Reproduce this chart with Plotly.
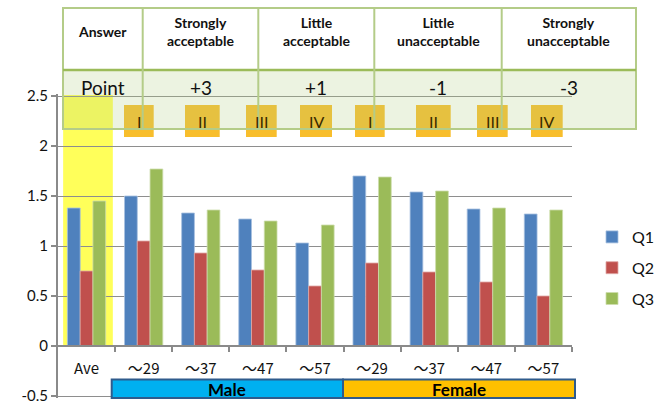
import plotly.graph_objects as go

# ---- data -------------------------------------------------------------
age_labels = ["Ave", "～29", "～37", "～47", "～57", "～29", "～37", "～47", "～57"]
q1 = [1.38, 1.50, 1.33, 1.27, 1.03, 1.70, 1.54, 1.37, 1.32]
q2 = [0.75, 1.05, 0.93, 0.76, 0.60, 0.83, 0.74, 0.64, 0.50]
q3 = [1.45, 1.77, 1.36, 1.25, 1.21, 1.69, 1.55, 1.38, 1.36]
series_names = ["Q1", "Q2", "Q3"]

y_ticks = [-0.5, 0, 0.5, 1, 1.5, 2, 2.5]
y_tick_text = ["-0.5", "0", "0.5", "1", "1.5", "2", "2.5"]

answer_heads = ["Answer", "Strongly<br>acceptable", "Little<br>acceptable",
                "Little<br>unacceptable", "Strongly<br>unacceptable"]
answer_points = ["Point", "+3", "+1", "-1", "-3"]
roman = ["I", "II", "III", "IV", "I", "II", "III", "IV"]
groups = ["Male", "Female"]

# ---- layout geometry (pixels of the 655x403 page) ---------------------
W, H = 655, 403
Y_LO, Y_HI = -0.52, 2.52          # value range of the y axis
L, R, T, B = 58, 572, 94, 398     # plot area edges in pixels


def px(x):
    return (x - L) / (R - L)


def py(y):
    return (B - y) / (B - T)


colors = ["#4F81BD", "#C0504D", "#9BBB59"]
edge = ["#A7C0E0", "#E0A7A5", "#CDDDAC"]
FONT = "Lato"

fig = go.Figure()
xs = list(range(len(age_labels)))
for name, vals, c, e in zip(series_names, [q1, q2, q3], colors, edge):
    fig.add_trace(go.Bar(
        x=xs, y=vals, name=name, legendgroup=name,
        marker=dict(color=c, line=dict(color=e, width=0.8)),
    ))

shapes = []
annotations = []

# highlighted "Ave" column
shapes.append(dict(type="rect", xref="x", yref="y", x0=-0.41, x1=0.46, y0=0, y1=2.51,
                   fillcolor="#FFFF5A", line=dict(width=0), layer="below"))

# roman-numeral markers
sq_left = [124, 185, 246, 300, 355, 416, 477, 531]
sq_right = [153.7, 219.7, 276.7, 332, 384.7, 450.7, 507.7, 562.7]
for x0, x1, lab in zip(sq_left, sq_right, roman):
    shapes.append(dict(type="rect", xref="paper", yref="paper",
                       x0=px(x0), x1=px(x1), y0=py(137), y1=py(105),
                       fillcolor="#F8BE2C", line=dict(width=0), layer="above"))
    annotations.append(dict(xref="paper", yref="paper", x=px((x0 + x1) / 2), y=py(121),
                            text=lab, showarrow=False, xanchor="center", yanchor="middle",
                            font=dict(family=FONT, size=16, color="#3A2A00")))

# answer / point table
col_edges = [63, 142.7, 258.3, 374.3, 501.7, 636]
tbl_top, tbl_mid, tbl_bot = 8, 70, 129
shapes.append(dict(type="rect", xref="paper", yref="paper",
                   x0=px(col_edges[0]), x1=px(col_edges[-1]), y0=py(tbl_bot), y1=py(tbl_mid),
                   fillcolor="rgba(175,205,130,0.24)", line=dict(width=0), layer="above"))
shapes.append(dict(type="rect", xref="paper", yref="paper",
                   x0=px(col_edges[0]), x1=px(col_edges[-1]), y0=py(tbl_bot), y1=py(tbl_top),
                   fillcolor="rgba(0,0,0,0)", line=dict(color="#B4CC88", width=2), layer="above"))
shapes.append(dict(type="line", xref="paper", yref="paper",
                   x0=px(col_edges[0]), x1=px(col_edges[-1]), y0=py(tbl_mid), y1=py(tbl_mid),
                   line=dict(color="#9BBB59", width=2.5), layer="above"))
for xe in col_edges[1:-1]:
    shapes.append(dict(type="line", xref="paper", yref="paper",
                       x0=px(xe), x1=px(xe), y0=py(tbl_bot), y1=py(tbl_top),
                       line=dict(color="#B4CC88", width=2), layer="above"))
for i in range(5):
    cx = (col_edges[i] + col_edges[i + 1]) / 2
    annotations.append(dict(xref="paper", yref="paper", x=px(cx), y=py(32),
                            text="<b>" + answer_heads[i] + "</b>", showarrow=False,
                            xanchor="center", yanchor="middle",
                            font=dict(family=FONT, size=14, color="#111111")))
    annotations.append(dict(xref="paper", yref="paper", x=px(cx), y=py(87),
                            text=answer_points[i], showarrow=False,
                            xanchor="center", yanchor="middle",
                            font=dict(family=FONT, size=19, color="#111111")))

# Male / Female bands under the age labels
band_edges = [111.7, 343, 575]
band_fill = ["#00B0F0", "#FFC000"]
for i, g in enumerate(groups):
    shapes.append(dict(type="rect", xref="paper", yref="paper",
                       x0=px(band_edges[i]), x1=px(band_edges[i + 1]), y0=py(398), y1=py(379.5),
                       fillcolor=band_fill[i], line=dict(color="#2F5B8C", width=2), layer="above"))
    annotations.append(dict(xref="paper", yref="paper",
                            x=px((band_edges[i] + band_edges[i + 1]) / 2), y=py(389),
                            text="<b>" + g + "</b>", showarrow=False,
                            xanchor="center", yanchor="middle",
                            font=dict(family=FONT, size=17, color="#000000")))

fig.update_layout(
    width=W, height=H,
    margin=dict(l=L, r=W - R, t=T, b=H - B, pad=0, autoexpand=False),
    paper_bgcolor="white", plot_bgcolor="white",
    barmode="group", bargap=0.33, bargroupgap=0,
    font=dict(family=FONT, size=15, color="#111111"),
    shapes=shapes, annotations=annotations,
    legend=dict(x=px(592), xanchor="left", y=py(268), yanchor="middle",
                font=dict(family=FONT, size=16, color="#111111"),
                tracegroupgap=7, traceorder="grouped", itemwidth=30,
                bgcolor="rgba(0,0,0,0)"),
    showlegend=True,
)

fig.update_yaxes(
    range=[Y_LO, Y_HI], tickmode="array", tickvals=y_ticks, ticktext=y_tick_text,
    showgrid=True, gridcolor="#8E8E8E", gridwidth=1.2,
    zeroline=False, showline=True, linecolor="#8A8A8A", linewidth=2,
    ticks="outside", ticklen=5, tickcolor="#8A8A8A", tickwidth=1.5,
    ticklabeloverflow="allow",
    tickfont=dict(family=FONT, size=15, color="#111111"),
)

fig.update_xaxes(
    range=[-0.5, len(age_labels) - 0.5], anchor="free", position=py(346),
    tickmode="array", tickvals=xs, ticktext=age_labels, ticks="",
    ticklabelstandoff=9,
    showgrid=False, zeroline=False, showline=True, linecolor="#8A8A8A", linewidth=1.5,
    tickfont=dict(family="Noto Sans CJK JP", size=15, color="#111111"),
    minor=dict(tickmode="array", tickvals=[i + 0.5 for i in xs], ticks="outside",
               ticklen=5, tickcolor="#8A8A8A", tickwidth=1.5, showgrid=False),
)

fig.write_html("out.html")
